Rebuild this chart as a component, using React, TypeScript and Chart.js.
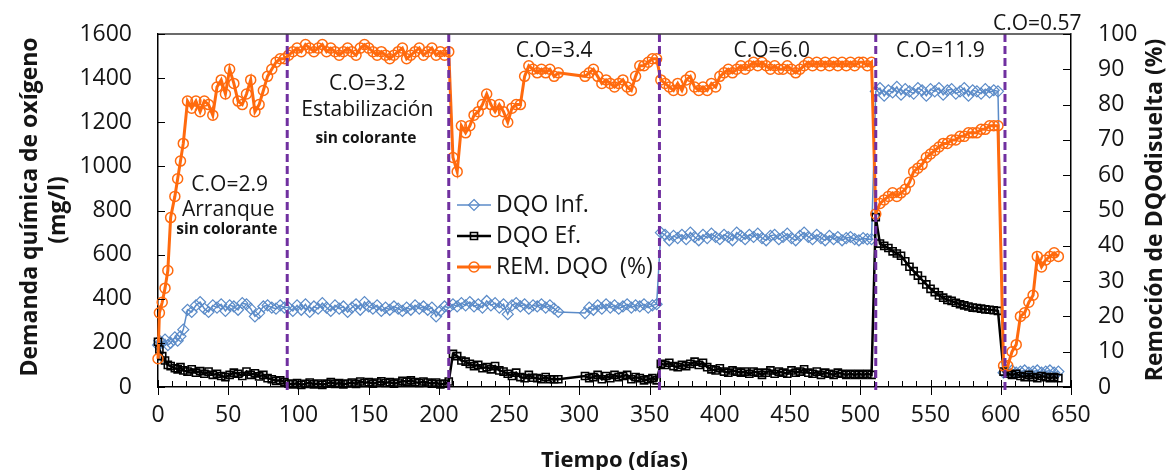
import React, { useEffect, useRef } from 'react';
import { Chart, registerables } from 'chart.js';

Chart.register(...registerables);

// ---- Sampling days (días de operación), by operating phase ----
const daysP1 = [0, 1, 3, 5, 7, 9, 12, 14, 16, 18, 21, 24, 27, 30, 33, 36, 39, 42, 45, 48, 51, 54, 57, 60, 63, 66, 69, 72, 75, 78, 81, 84, 87, 90];
const daysP2 = [93, 96, 99, 102, 105, 108, 111, 114, 117, 120, 123, 126, 129, 132, 135, 138, 141, 144, 147, 150, 153, 156, 159, 162, 165, 168, 171, 174, 177, 180, 183, 186, 189, 192, 195, 198, 201, 204];
const daysP3 = [207, 210, 213, 216, 219, 222, 225, 228, 231, 234, 237, 240, 243, 246, 249, 252, 255, 258, 261, 264, 267, 270, 273, 276, 279, 282, 285, 304, 307, 310, 313, 316, 319, 322, 325, 328, 331, 334, 337, 340, 343, 346, 349, 352, 355];
const daysP4 = [358, 361, 364, 367, 370, 373, 376, 379, 382, 385, 388, 391, 394, 397, 400, 403, 406, 409, 412, 415, 418, 421, 424, 427, 430, 433, 436, 439, 442, 445, 448, 451, 454, 457, 460, 463, 466, 469, 472, 475, 478, 481, 484, 487, 490, 493, 496, 499, 502, 505, 508];
const daysP5 = [511, 514, 517, 520, 523, 526, 529, 532, 535, 538, 541, 544, 547, 550, 553, 556, 559, 562, 565, 568, 571, 574, 577, 580, 583, 586, 589, 592, 595, 598];
const daysP6 = [602, 605, 608, 611, 614, 617, 620, 623, 626, 629, 632, 635, 638, 641];

// ---- DQO influente (mg/l) ----
const infP1 = [190, 210, 200, 215, 190, 200, 225, 210, 230, 260, 350, 340, 370, 385, 355, 340, 370, 360, 375, 345, 370, 365, 350, 380, 375, 355, 320, 335, 365, 370, 360, 355, 370, 360];
const infP2 = [360, 345, 370, 350, 375, 340, 365, 355, 380, 360, 345, 370, 355, 365, 340, 360, 375, 350, 385, 365, 355, 370, 345, 360, 350, 365, 355, 345, 360, 350, 370, 355, 365, 350, 360, 320, 345, 365];
const infP3 = [360, 375, 365, 380, 370, 385, 365, 375, 360, 390, 370, 380, 360, 375, 330, 370, 380, 365, 375, 355, 370, 365, 375, 360, 370, 355, 340, 335, 360, 350, 370, 355, 375, 360, 370, 355, 365, 375, 360, 370, 365, 375, 360, 370, 375];
const infP4 = [700, 690, 665, 685, 675, 690, 670, 700, 680, 665, 690, 675, 695, 680, 670, 690, 680, 665, 700, 685, 670, 690, 680, 695, 675, 665, 685, 690, 670, 680, 695, 675, 665, 685, 700, 680, 670, 690, 675, 665, 685, 670, 680, 665, 675, 680, 670, 665, 675, 670, 670];
const infP5 = [1340, 1355, 1320, 1345, 1335, 1360, 1325, 1350, 1340, 1330, 1355, 1345, 1320, 1350, 1340, 1355, 1325, 1345, 1350, 1330, 1340, 1355, 1320, 1345, 1340, 1330, 1350, 1335, 1345, 1340];
const infP6 = [65, 70, 75, 65, 70, 75, 65, 70, 75, 65, 70, 75, 65, 70];

// ---- DQO efluente (mg/l) ----
const efP1 = [205, 170, 140, 120, 100, 95, 85, 80, 90, 75, 70, 80, 65, 72, 60, 70, 55, 60, 50, 45, 55, 65, 60, 50, 70, 55, 62, 48, 55, 40, 35, 28, 30, 22];
const efP2 = [15, 12, 18, 10, 14, 20, 12, 16, 10, 15, 22, 14, 18, 12, 16, 20, 14, 25, 18, 22, 15, 20, 26, 18, 22, 15, 20, 28, 24, 30, 22, 18, 25, 20, 15, 20, 12, 15];
const efP3 = [25, 150, 140, 120, 115, 105, 95, 100, 85, 90, 80, 95, 75, 70, 60, 50, 65, 45, 40, 55, 42, 40, 35, 45, 35, 35, 35, 50, 40, 45, 55, 35, 50, 40, 55, 45, 50, 55, 35, 45, 40, 30, 35, 40, 30];
const efP4 = [105, 100, 110, 95, 90, 100, 95, 105, 115, 100, 110, 90, 80, 75, 85, 70, 65, 75, 70, 65, 70, 60, 70, 65, 55, 65, 75, 60, 70, 65, 60, 75, 65, 70, 80, 65, 60, 70, 55, 65, 60, 55, 65, 60, 55, 60, 55, 60, 55, 60, 55];
const efP5 = [770, 650, 640, 630, 615, 605, 595, 570, 545, 525, 505, 485, 465, 445, 430, 415, 405, 395, 390, 382, 375, 370, 365, 360, 358, 355, 352, 350, 348, 345];
const efP6 = [70, 60, 55, 60, 50, 45, 55, 45, 40, 50, 45, 40, 45, 40];

// ---- Remoción de DQO (%) ----
const remP1 = [8, 21, 24, 28, 33, 48, 54, 59, 64, 69, 81, 79, 81, 78, 81, 80, 77, 85, 87, 83, 90, 86, 81, 80, 83, 87, 78, 80, 84, 88, 90, 92, 93, 93];
const remP2 = [94, 95, 96, 95, 97, 96, 95, 96, 97, 95, 96, 95, 94, 95, 96, 95, 94, 96, 97, 96, 95, 94, 95, 94, 93, 94, 95, 96, 93, 94, 95, 96, 94, 95, 96, 94, 95, 94];
const remP3 = [95, 65, 61, 74, 72, 74, 77, 78, 80, 83, 80, 78, 80, 78, 75, 79, 80, 80, 88, 91, 90, 89, 90, 89, 90, 88, 89, 88, 89, 90, 88, 86, 87, 86, 85, 86, 87, 85, 84, 88, 91, 91, 92, 93, 93];
const remP4 = [87, 86, 85, 84, 86, 84, 87, 88, 85, 84, 85, 84, 86, 85, 88, 89, 90, 89, 90, 91, 90, 91, 92, 91, 92, 91, 90, 91, 90, 90, 91, 90, 89, 90, 91, 92, 91, 92, 91, 92, 91, 92, 91, 92, 91, 92, 91, 92, 92, 91, 92];
const remP5 = [49, 52, 53, 54, 55, 54, 55, 56, 58, 61, 62, 63, 65, 66, 67, 68, 69, 69, 70, 70, 71, 71, 72, 72, 72, 73, 73, 74, 74, 74];
const remP6 = [6, 6, 10, 12, 20, 21, 24, 26, 37, 34, 36, 37, 38, 37];

const days = [...daysP1, ...daysP2, ...daysP3, ...daysP4, ...daysP5, ...daysP6];
const dqoInf = [...infP1, ...infP2, ...infP3, ...infP4, ...infP5, ...infP6];
const dqoEf = [...efP1, ...efP2, ...efP3, ...efP4, ...efP5, ...efP6];
const remDqo = [...remP1, ...remP2, ...remP3, ...remP4, ...remP5, ...remP6];

// Phase changes (day) and their labels
const phaseBoundaries = [92, 207, 357, 511, 603];
const phaseNotes = [
  { text: 'C.O=2.9', day: 51, mg: 915, bold: false, size: 21 },
  { text: 'Arranque', day: 50, mg: 803, bold: false, size: 21 },
  { text: 'sin colorante', day: 49, mg: 715, bold: true, size: 15.5 },
  { text: 'C.O=3.2', day: 149, mg: 1372, bold: false, size: 21 },
  { text: 'Estabilización', day: 149, mg: 1255, bold: false, size: 21 },
  { text: 'sin colorante', day: 148, mg: 1127, bold: true, size: 15.5 },
  { text: 'C.O=3.4', day: 282, mg: 1524, bold: false, size: 21 },
  { text: 'C.O=6.0', day: 437, mg: 1524, bold: false, size: 21 },
  { text: 'C.O=11.9', day: 557, mg: 1524, bold: false, size: 21 },
  { text: 'C.O=0.57', day: 626, mg: 1645, bold: false, size: 21 },
];

const BLUE = '#5B8BC8';
const BLACK = '#000000';
const ORANGE = '#FF6A0E';
const PURPLE = '#7030A0';
const TEXT = '#151515';
const FONT = "'Open Sans', sans-serif";

const seriesStyle = [
  { label: 'DQO Inf.', color: BLUE, lineWidth: 1.5, pointStyle: 'rectRot', radius: 5.5, pointBorder: 1.2 },
  { label: 'DQO Ef.', color: BLACK, lineWidth: 2.5, pointStyle: 'rect', radius: 5, pointBorder: 1.6 },
  { label: 'REM. DQO  (%)', color: ORANGE, lineWidth: 3, pointStyle: 'circle', radius: 5, pointBorder: 1.5 },
];

function drawMarker(ctx: CanvasRenderingContext2D, style: string, x: number, y: number, r: number) {
  ctx.beginPath();
  if (style === 'circle') {
    ctx.arc(x, y, r, 0, Math.PI * 2);
  } else if (style === 'rect') {
    const s = r * Math.SQRT1_2;
    ctx.rect(x - s, y - s, 2 * s, 2 * s);
  } else {
    ctx.moveTo(x, y - r);
    ctx.lineTo(x + r, y);
    ctx.lineTo(x, y + r);
    ctx.lineTo(x - r, y);
    ctx.closePath();
  }
  ctx.stroke();
}

const overlayPlugin = {
  id: 'overlay',
  afterDatasetsDraw(chart: any) {
    const { ctx, chartArea, scales } = chart;
    const { top, bottom } = chartArea;
    ctx.save();
    ctx.strokeStyle = PURPLE;
    ctx.lineWidth = 3;
    ctx.setLineDash([8, 4]);
    phaseBoundaries.forEach((d) => {
      const px = scales.x.getPixelForValue(d);
      ctx.beginPath();
      ctx.moveTo(px, top);
      ctx.lineTo(px, bottom + 3);
      ctx.stroke();
    });
    ctx.restore();
  },
  afterDraw(chart: any) {
    const { ctx, chartArea, scales } = chart;
    const { left, right, top, bottom } = chartArea;
    const x = scales.x;
    const y = scales.y;
    const y2 = scales.y2;
    ctx.save();

    // top frame line
    ctx.strokeStyle = '#3a3a3a';
    ctx.lineWidth = 1.5;
    ctx.beginPath();
    ctx.moveTo(left, top);
    ctx.lineTo(right, top);
    ctx.stroke();

    // tick marks
    ctx.strokeStyle = '#000';
    ctx.lineWidth = 1;
    for (let v = 0; v <= 650; v += 10) {
      const px = Math.round(x.getPixelForValue(v)) + 0.5;
      ctx.beginPath();
      if (v % 50 === 0) {
        ctx.moveTo(px, bottom - 7);
        ctx.lineTo(px, bottom + 8);
      } else {
        ctx.moveTo(px, bottom - 6);
        ctx.lineTo(px, bottom);
      }
      ctx.stroke();
    }
    for (let v = 0; v <= 1600; v += 200) {
      const py = Math.round(y.getPixelForValue(v)) + 0.5;
      ctx.beginPath();
      ctx.moveTo(left, py);
      ctx.lineTo(left + 7, py);
      ctx.stroke();
    }
    for (let v = 0; v <= 100; v += 10) {
      const py = Math.round(y2.getPixelForValue(v)) + 0.5;
      ctx.beginPath();
      ctx.moveTo(right - 8, py);
      ctx.lineTo(right, py);
      ctx.stroke();
    }

    // phase annotations
    ctx.fillStyle = TEXT;
    ctx.textAlign = 'center';
    ctx.textBaseline = 'middle';
    phaseNotes.forEach((n) => {
      ctx.font = `${n.bold ? 'bold ' : ''}${n.size}px ${FONT}`;
      ctx.fillText(n.text, x.getPixelForValue(n.day), y.getPixelForValue(n.mg));
    });

    // legend
    const rows = [205, 236, 267];
    seriesStyle.forEach((s, i) => {
      const ry = rows[i];
      ctx.strokeStyle = s.color;
      ctx.lineWidth = s.lineWidth;
      ctx.beginPath();
      ctx.moveTo(457, ry);
      ctx.lineTo(491, ry);
      ctx.stroke();
      ctx.lineWidth = s.pointBorder;
      drawMarker(ctx, s.pointStyle, 474, ry, s.radius);
      ctx.fillStyle = TEXT;
      ctx.font = `23px ${FONT}`;
      ctx.textAlign = 'left';
      ctx.textBaseline = 'middle';
      ctx.fillText(s.label, 496, ry);
    });

    // axis titles
    ctx.fillStyle = TEXT;
    ctx.textAlign = 'center';
    ctx.font = `bold 22px ${FONT}`;
    ctx.textBaseline = 'alphabetic';
    ctx.fillText('Tiempo (días)', (left + right) / 2, 467);

    ctx.font = `bold 23px ${FONT}`;
    ctx.textBaseline = 'middle';
    ctx.save();
    ctx.translate(30, 207);
    ctx.rotate(-Math.PI / 2);
    ctx.fillText('Demanda química de oxígeno', 0, 0);
    ctx.restore();
    ctx.save();
    ctx.translate(58, 210);
    ctx.rotate(-Math.PI / 2);
    ctx.fillText('(mg/l)', 0, 0);
    ctx.restore();
    ctx.save();
    ctx.translate(1155, 210);
    ctx.rotate(-Math.PI / 2);
    ctx.fillText('Remoción de DQOdisuelta (%)', 0, 0);
    ctx.restore();

    ctx.restore();
  },
};

const plainTick = (v: any) => String(v);

// fixed axis band sizes; label overhang must not push the plot area inward
const fixVertical = (width: number) => (s: any) => {
  s.width = width;
  s.paddingTop = 0;
  s.paddingBottom = 0;
};

export default function App() {
  const canvasRef = useRef<HTMLCanvasElement | null>(null);

  useEffect(() => {
    const canvas = canvasRef.current;
    if (!canvas) return;

    const values = [dqoInf, dqoEf, remDqo];
    const datasets = seriesStyle.map((s, i) => ({
      label: s.label,
      data: days.map((d, k) => ({ x: d, y: values[i][k] })),
      yAxisID: i === 2 ? 'y2' : 'y',
      borderColor: s.color,
      borderWidth: s.lineWidth,
      pointStyle: s.pointStyle,
      pointRadius: s.radius,
      pointBorderWidth: s.pointBorder,
      pointBorderColor: s.color,
      pointBackgroundColor: 'rgba(255,255,255,0)',
      tension: 0,
      fill: false,
      clip: false,
      order: 2 - i,
    }));

    const tickFont = { family: FONT, size: 23 };
    const chart = new Chart(canvas, {
      type: 'line',
      data: { datasets } as any,
      options: {
        responsive: false,
        animation: false,
        devicePixelRatio: 1,
        layout: { padding: { top: 34, left: 0, right: 0, bottom: 0 } },
        plugins: { legend: { display: false }, tooltip: { enabled: false } },
        scales: {
          x: {
            type: 'linear',
            min: 0,
            max: 650,
            grid: { display: false, drawTicks: false },
            border: { display: true, color: '#000', width: 1.5 },
            ticks: { stepSize: 50, color: TEXT, font: tickFont, padding: 15, maxRotation: 0, callback: plainTick },
            afterFit: (s: any) => { s.height = 83; },
          },
          y: {
            position: 'left',
            min: 0,
            max: 1600,
            grid: { display: false, drawTicks: false },
            border: { display: true, color: '#000', width: 1.5 },
            ticks: { stepSize: 200, color: TEXT, font: tickFont, padding: 26, callback: plainTick },
            afterFit: fixVertical(158),
          },
          y2: {
            position: 'right',
            min: 0,
            max: 100,
            grid: { display: false, drawTicks: false },
            border: { display: true, color: '#000', width: 1.5 },
            ticks: { stepSize: 10, color: TEXT, font: tickFont, padding: 27, callback: plainTick },
            afterFit: fixVertical(97),
          },
        },
      } as any,
      plugins: [overlayPlugin],
    });

    return () => chart.destroy();
  }, []);

  return (
    <div style={{ position: 'fixed', left: 0, top: 0, width: 1168, height: 470, background: '#fff' }}>
      <canvas ref={canvasRef} width={1168} height={470} style={{ display: 'block' }} />
    </div>
  );
}
